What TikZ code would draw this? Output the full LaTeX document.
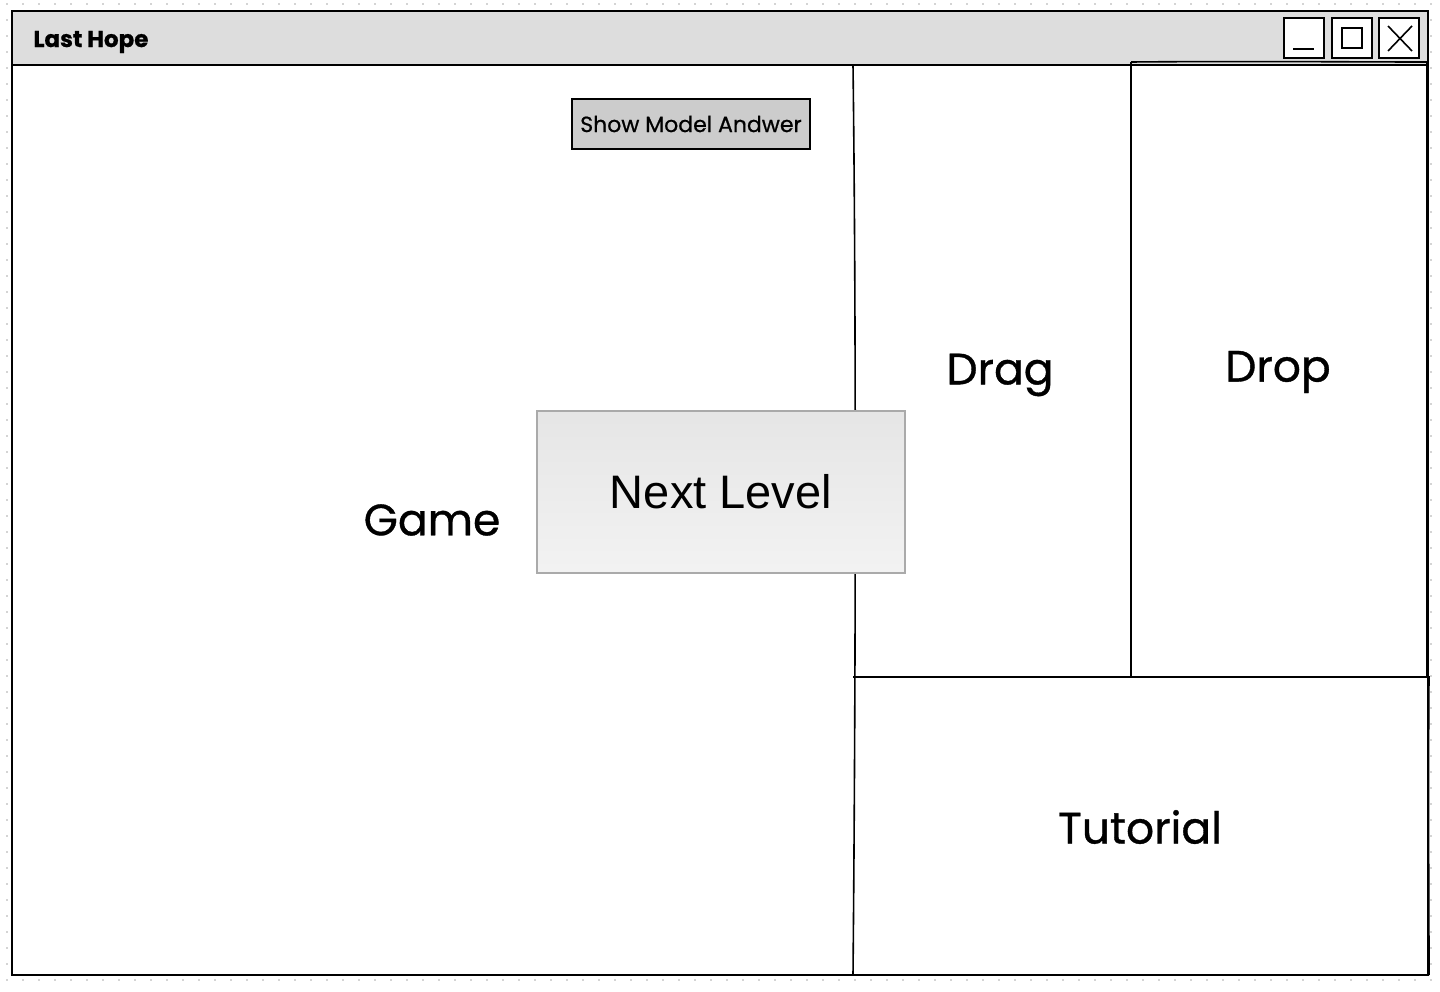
\documentclass[tikz,border=0pt]{standalone}
\usepackage{fontspec}
\setmainfont{Liberation Sans}
\newfontfamily\sketchfont{Poppins}[FakeBold=0.8]
\usetikzlibrary{positioning}

\definecolor{titlegray}{HTML}{DDDDDD}
\definecolor{btngray}{HTML}{CCCCCC}
\definecolor{dotgray}{HTML}{D4D4D4}
\definecolor{nlborder}{HTML}{AAAAAA}

\begin{document}
\begin{tikzpicture}[x=1pt,y=-1pt,
    panel/.style={draw=black,line width=1.6pt},
    winbtn/.style={draw=black,fill=white,line width=2pt,minimum width=40pt,minimum height=40pt,inner sep=0pt},
    bigtext/.style={font=\sketchfont\fontsize{44}{52}\selectfont},
    gdot/.style={fill=dotgray}]
  \useasboundingbox (0,0) rectangle (1440,992);
  % grid dots round the window
  \foreach \x in {7,23,...,1431} {
    \fill[gdot] (\x-1,3) rectangle (\x+1,5);
    \fill[gdot] (\x-1,979) rectangle (\x+1,981);
  }
  \foreach \y in {20,36,...,964} {
    \fill[gdot] (6,\y-1) rectangle (8,\y+1);
    \fill[gdot] (1430,\y-1) rectangle (1432,\y+1);
  }
  % window
  \fill[white] (12,11) rectangle (1428,975);
  \fill[titlegray] (12,11) rectangle (1428,65);
  \node[anchor=west,font=\sketchfont\bfseries\fontsize{23}{27}\selectfont] (title) at (30,42) {Last Hope};
  \node[winbtn] (btnmin) at (1304,38) {};
  \node[winbtn,right=6pt of btnmin] (btnmax) {};
  \node[winbtn,right=5pt of btnmax] (btnclose) {};
  \draw[line width=2pt] (1293,49) -- (1314,49);
  \draw[line width=2pt] (1342,28) rectangle (1362,48);
  \draw[line width=1.6pt] (1388,26) -- (1412,51) (1412,26) -- (1388,51);
  \draw[line width=2pt] (12,11) rectangle (1428,975);
  \draw[line width=1.6pt] (12,65) -- (1428,65);
  % panels
  \draw[panel] (853,65) .. controls (856,300) and (856,650) .. (853,975);
  \draw[panel] (1131,62) -- (1131,677);
  \draw[panel] (1131,62) .. controls (1250,61) and (1350,62) .. (1427,62) -- (1427,677);
  \draw[panel] (853,677) -- (1429,677) .. controls (1428,800) and (1429,900) .. (1429,975);
  \node[bigtext] (game) at (432,520) {Game};
  \node[bigtext] (drag) at (1000,375) {Drag};
  \node[bigtext] (drop) at (1278,372) {Drop};
  \node[bigtext] (tutorial) at (1140,827) {Tutorial};
  % buttons
  \node[draw=black,fill=btngray,line width=1.4pt,minimum width=238pt,minimum height=50pt,inner sep=0pt,
        font=\sketchfont\fontsize{22}{26}\selectfont] (showmodel) at (691,124) {Show Model Andwer};
  \node[draw=nlborder,line width=1.6pt,top color=black!10,bottom color=black!5,minimum width=368pt,
        minimum height=162pt,inner sep=0pt,font=\fontsize{47}{56}\selectfont] (nextlevel) at (721,492) {Next Level};
\end{tikzpicture}
\end{document}
